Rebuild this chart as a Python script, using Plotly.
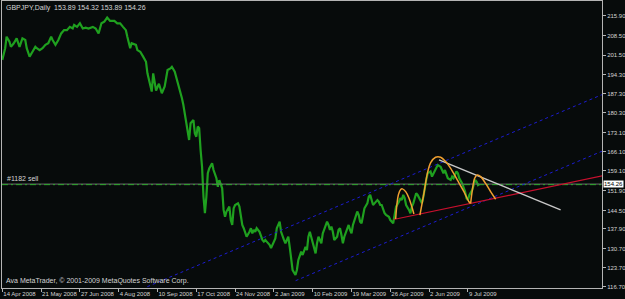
import plotly.graph_objects as go

# ---------------- data ----------------
bar = [0, 2, 3, 5, 6, 8, 10, 12, 14, 16, 17, 19, 21, 23, 24, 26, 28, 30, 32, 34, 35, 37, 39, 41, 43, 45, 47, 49, 50,
       52, 54, 56, 58, 60, 63, 65, 67, 69, 71, 73, 75, 78, 80, 82, 84, 86, 87, 89, 90, 93, 94, 96, 98, 100, 101, 103,
       104, 105, 107, 109, 111, 113, 115, 117, 118, 120, 121, 123, 125, 126, 127, 128, 129, 130, 131, 133, 134, 135,
       136, 137, 138, 139, 140, 141, 142, 143, 144, 146, 147, 148, 149, 150, 151, 153, 154, 155, 156, 158, 159, 160,
       161, 162, 164, 165, 166, 167, 168, 169, 170, 172, 173, 174, 175, 176, 177, 179, 180, 181, 182, 183, 184, 186,
       187, 188, 189, 190, 191, 193, 194, 195, 196, 197, 199, 200, 201, 202, 204, 205, 206, 207, 208, 209, 211, 212,
       213, 214, 215, 216, 218, 219, 220, 221, 222, 223, 225, 226, 227, 228, 229, 230, 231, 233, 234, 235, 236, 237,
       238, 240, 241, 242, 243, 244, 245, 247, 248, 249, 250, 251, 252, 254, 255, 256, 257, 258, 259, 261, 262, 263,
       264, 265, 266, 267, 269, 270, 271, 272, 273, 274, 276, 277, 278, 279, 280, 281, 283, 284, 285, 286, 287, 288,
       289, 291, 292, 293, 294, 295, 296, 298, 299, 300, 301, 302, 303, 305, 306, 307, 308, 309, 310, 312, 313, 314,
       315, 316, 317, 318, 320, 321, 322, 323, 324, 325, 327, 328, 329, 330, 331, 332]
close = [199.7, 204.0, 208.2, 206.4, 204.5, 205.8, 207.6, 204.5, 207.6, 207.0, 204.0, 200.9, 202.7, 204.5, 204.0,
         203.3, 204.0, 205.2, 205.8, 208.2, 207.0, 205.2, 207.0, 209.4, 210.6, 210.6, 211.8, 211.2, 212.5, 211.8,
         213.1, 211.2, 211.5, 211.2, 211.8, 211.2, 209.4, 213.1, 213.7, 215.2, 214.0, 214.0, 213.1, 213.1, 211.8,
         210.6, 208.2, 204.0, 205.8, 205.2, 203.3, 202.7, 200.9, 199.0, 194.8, 191.0, 188.1, 194.8, 188.5, 191.0,
         187.5, 190.0, 196.0, 196.6, 197.2, 195.4, 193.6, 189.3, 185.7, 183.2, 180.2, 176.5, 172.8, 170.4, 176.5,
         177.7, 172.8, 171.6, 175.3, 174.7, 166.7, 160.6, 149.6, 143.6, 149.6, 158.2, 160.0, 161.9, 159.4, 158.2,
         156.4, 153.3, 155.7, 152.7, 144.8, 142.3, 144.2, 146.0, 141.1, 139.3, 145.4, 146.6, 147.2, 146.0, 142.3,
         139.3, 138.1, 136.2, 135.0, 136.8, 138.1, 136.2, 137.5, 136.8, 138.1, 136.8, 135.0, 133.8, 133.2, 133.8,
         133.2, 132.0, 130.8, 132.0, 133.8, 134.4, 138.1, 140.5, 136.8, 135.0, 133.8, 132.6, 135.0, 131.3, 126.5,
         122.8, 121.0, 122.8, 126.5, 128.3, 129.5, 128.3, 131.3, 130.1, 135.0, 136.8, 135.0, 132.6, 128.9, 132.6,
         135.0, 133.8, 132.6, 136.2, 138.7, 140.5, 139.3, 137.5, 138.7, 136.8, 133.8, 135.0, 137.5, 138.1, 135.6,
         132.6, 135.0, 137.5, 139.3, 137.5, 136.2, 139.3, 141.1, 144.2, 143.0, 140.5, 139.9, 143.0, 145.4, 147.2,
         149.6, 150.3, 147.8, 146.6, 147.2, 148.4, 147.8, 146.6, 146.6, 144.8, 143.6, 143.0, 142.3, 141.1, 140.5,
         139.9, 143.0, 146.0, 147.8, 149.1, 148.4, 150.3, 149.1, 146.6, 144.8, 143.6, 146.0, 147.2, 149.1, 150.9,
         150.3, 147.8, 147.2, 149.6, 153.3, 155.8, 158.2, 158.9, 157.0, 158.2, 158.9, 160.0, 161.2, 160.6, 159.4,
         158.2, 159.4, 157.6, 156.4, 155.8, 157.0, 156.4, 157.6, 158.9, 158.2, 156.4, 154.5, 153.3, 151.5, 149.1,
         148.4, 150.3, 152.1, 153.9, 155.8, 155.2, 153.9, 154.26]

date_ticks = [0, 27, 54, 81, 108, 135, 162, 189, 216, 243, 270, 297, 324]
date_labels = ["14 Apr 2008", "21 May 2008", "27 Jun 2008", "4 Aug 2008", "10 Sep 2008", "17 Oct 2008",
               "24 Nov 2008", "2 Jan 2009", "10 Feb 2009", "19 Mar 2009", "26 Apr 2009", "2 Jun 2009", "9 Jul 2009"]
price_ticks = [215.90, 208.50, 201.50, 194.30, 187.30, 180.30, 173.10, 166.10, 159.10, 151.90, 144.50,
               137.90, 130.70, 123.70, 116.70]
price_labels = ["%.2f" % v for v in price_ticks]

bid_price = 154.26
order_price = 154.05
title_text = "GBPJPY,Daily  153.89 154.32 153.89 154.26"
order_text = "#1182 sell"
copyright_text = "Ava MetaTrader, © 2001-2009 MetaQuotes Software Corp."

# drawn objects (anchor points in bar index / price)
upper_channel_x = [100.9, 417.8]
upper_channel_y = [116.7, 187.1]
lower_channel_x = [204.1, 417.8]
lower_channel_y = [118.9, 166.4]
support_x = [272.3, 417.8]
support_y = [141.3, 157.3]
resist_x = [303.9, 388.5]
resist_y = [163.1, 144.8]
arc1_x = [273.7, 275.6, 277.2, 278.4, 280.7, 283.0, 285.3, 286.4]
arc1_y = [141.5, 150.3, 152.3, 152.5, 151.5, 149.1, 145.4, 143.3]
arc2_x = [290.6, 293.4, 295.8, 298.1, 301.5, 305.0, 308.5, 312.0, 316.6, 321.2, 324.7, 325.9]
arc2_y = [142.9, 150.9, 158.2, 162.1, 164.1, 164.1, 162.5, 160.0, 155.8, 151.5, 147.8, 147.2]
arc3_x = [325.9, 327.1, 328.7, 330.5, 332.9, 336.3, 339.8, 343.3]
arc3_y = [147.2, 152.1, 156.4, 157.6, 157.0, 154.5, 151.5, 148.7]

X_RANGE = [-0.2, 417.3]
Y_RANGE = [116.22, 221.27]

BG = "#070b0b"
FG = "#d4d4d4"
FRAME = "#b4b4b4"
FONT = "Liberation Sans, Arial, sans-serif"
FS = 6
FS_TXT = 7

fig = go.Figure()

# price
fig.add_trace(go.Scatter(x=bar, y=close, mode="lines",
                         line=dict(color="#1fa01f", width=2.2), hoverinfo="skip"))

# bid line and order line
fig.add_trace(go.Scatter(x=X_RANGE, y=[bid_price, bid_price], mode="lines",
                         line=dict(color="#6e6e6e", width=1), hoverinfo="skip"))
fig.add_trace(go.Scatter(x=X_RANGE, y=[order_price, order_price], mode="lines",
                         line=dict(color="#2eaa2e", width=1, dash="6px,3px,2px,3px"), hoverinfo="skip"))

# channels
for xs, ys in [(upper_channel_x, upper_channel_y), (lower_channel_x, lower_channel_y)]:
    fig.add_trace(go.Scatter(x=xs, y=ys, mode="lines",
                             line=dict(color="#1c1cd0", width=1, dash="dot"), hoverinfo="skip"))
# support (red) and resistance (grey)
fig.add_trace(go.Scatter(x=support_x, y=support_y, mode="lines",
                         line=dict(color="#c8102e", width=1.2), hoverinfo="skip"))
fig.add_trace(go.Scatter(x=resist_x, y=resist_y, mode="lines",
                         line=dict(color="#c8c8c8", width=1.4), hoverinfo="skip"))
# arcs
for xs, ys in [(arc1_x, arc1_y), (arc2_x, arc2_y), (arc3_x, arc3_y)]:
    fig.add_trace(go.Scatter(x=xs, y=ys, mode="lines",
                             line=dict(color="#f0a030", width=1.5, shape="spline", smoothing=1.0),
                             hoverinfo="skip"))

# texts
fig.add_annotation(x=0.004, y=0.997, xref="paper", yref="paper", xanchor="left", yanchor="top",
                   text=title_text, showarrow=False, font=dict(family=FONT, size=FS_TXT, color=FG))
fig.add_annotation(x=0.005, y=bid_price, xref="paper", yref="y", xanchor="left", yanchor="bottom",
                   yshift=0, text=order_text, showarrow=False, font=dict(family=FONT, size=FS_TXT, color=FG))
fig.add_annotation(x=0.003, y=0.0, xref="paper", yref="paper", xanchor="left", yanchor="bottom",
                   yshift=1, text=copyright_text, showarrow=False, font=dict(family=FONT, size=FS_TXT, color=FG))
fig.add_annotation(x=1.0, y=bid_price, xref="paper", yref="y", xanchor="left", yanchor="middle",
                   xshift=1, text="%.2f" % bid_price, showarrow=False, bgcolor="#ffffff", borderpad=0,
                   font=dict(family=FONT, size=FS, color="#000000"))

fig.update_layout(
    width=625, height=299,
    margin=dict(l=2, r=23, t=1, b=11, autoexpand=False),
    paper_bgcolor=BG, plot_bgcolor=BG,
    showlegend=False,
    xaxis=dict(range=X_RANGE, showgrid=False, zeroline=False, automargin=False,
               showline=True, linecolor=FRAME, linewidth=1, mirror=True,
               tickmode="array", tickvals=date_ticks, ticktext=date_labels, tickangle=0,
               ticks="outside", ticklen=3, tickcolor=FRAME,
               ticklabelposition="outside right",
               tickfont=dict(family=FONT, size=FS, color=FG)),
    yaxis=dict(range=Y_RANGE, side="right", showgrid=False, zeroline=False, automargin=False,
               showline=True, linecolor=FRAME, linewidth=1, mirror=True,
               tickmode="array", tickvals=price_ticks, ticktext=price_labels,
               ticks="outside", ticklen=3, tickcolor=FRAME,
               tickfont=dict(family=FONT, size=FS, color=FG)),
)

fig.write_html("out.html")
